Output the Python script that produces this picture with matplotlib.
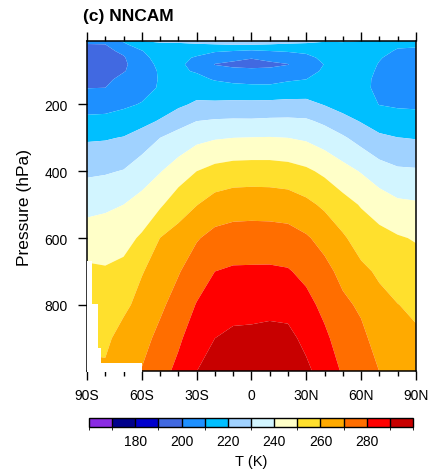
import numpy as np
import matplotlib
matplotlib.use("Agg")
import matplotlib.pyplot as plt
from matplotlib.colors import ListedColormap, BoundaryNorm

plt.rcParams['font.family'] = ['Liberation Sans', 'DejaVu Sans']

# ---- data (zonal mean temperature, K) ----
lats = [-90, -80, -70, -60, -50, -40, -30, -20, -10, 0, 10, 20, 30, 40, 50, 60, 70, 80, 90]
plevs = [10, 20, 40, 60, 80, 100, 125, 150, 200, 250, 300, 400, 500, 600, 700, 800, 900, 1000]

# one row per pressure level, one value per latitude
temp = [
    [204, 204, 211, 220, 221, 222, 223, 224, 225, 225, 225, 224, 223, 221, 220.5, 220, 219, 215, 213],
    [199.6, 200, 208.3, 216, 219, 218.5, 219.4, 220, 220.8, 220.8, 220, 219, 218.3, 217, 219, 218.5, 216.5, 211.7, 211],
    [197.2, 198, 201.7, 209.5, 216.5, 214.5, 213.1, 210.9, 210, 208.7, 210, 210.8, 211.7, 214.5, 216, 216.4, 212.9, 209, 208.9],
    [196.3, 197, 199.2, 207, 214, 212.3, 209.1, 205.3, 202, 200.4, 202, 205, 207.8, 211.9, 214.9, 215.3, 210.6, 207.3, 207.3],
    [196, 196.5, 198.6, 204.6, 212.7, 211.3, 207.7, 199.6, 198.4, 197.7, 198.6, 199.7, 206.1, 210.2, 213.7, 214.1, 209.5, 205.7, 205.5],
    [196.7, 197.3, 199.6, 203, 211.5, 211.2, 209.3, 204.5, 201.9, 201.7, 201.5, 203.7, 207, 211.2, 212.6, 213, 208.9, 205, 204.5],
    [197.8, 198.6, 201.8, 204.8, 210.8, 211.8, 212.1, 209.4, 207.7, 206.9, 206.6, 208.9, 210, 212.3, 212.5, 212.3, 208.2, 206, 205.6],
    [199.8, 200, 204.0, 206.7, 210.9, 213, 215.1, 213.5, 212.7, 212.2, 212.2, 213.4, 214.2, 214.1, 213.2, 211.7, 208.5, 207, 206.6],
    [206.1, 206.4, 208.4, 210.6, 214.5, 218.1, 221.7, 221.9, 222.5, 222.5, 222.7, 223.1, 222.9, 219.5, 215.8, 213.8, 209.8, 209, 208.8],
    [212.4, 212.8, 214.2, 216.9, 220.9, 226.4, 230, 231.1, 231.4, 231.3, 231.8, 231.9, 231.4, 228.2, 223.7, 219.4, 215.3, 213.4, 212.9],
    [218.8, 219.2, 220.5, 224.5, 230, 233.7, 237.4, 239.2, 240, 240.3, 240.5, 240, 238.6, 235.3, 231.3, 226.4, 221.9, 220.2, 219.5],
    [228.4, 229.0, 230.5, 235.4, 239.5, 244.7, 250, 253.1, 254.6, 254.9, 254.8, 253.9, 251.7, 248.1, 243.5, 239.4, 234.4, 231.6, 231.2],
    [236.6, 238.2, 240, 243.3, 248.6, 255.7, 259.7, 264, 265.6, 265.9, 265.7, 265.1, 262.3, 258.3, 253.6, 249.3, 245.5, 242, 241.2],
    [245.4, 245.3, 246.7, 251.4, 260.1, 263.5, 269.2, 273, 274.2, 274.4, 274.3, 273.7, 271.1, 266.8, 261.3, 255.8, 253, 250.9, 249.3],
    [251.7, 251.0, 252.6, 259.4, 264.2, 269.3, 275.1, 280, 281.3, 281.4, 281.5, 280.8, 277.5, 272.9, 267.3, 262.1, 258.6, 255.6, 254],
    [255, 254.4, 257.8, 263.3, 268.2, 273.9, 280.5, 285, 287.1, 287.2, 287.7, 286.8, 282.9, 277.5, 272, 268.5, 262.7, 260.2, 258.3],
    [258, 257.9, 263.8, 266.9, 272.5, 278.4, 285.2, 290, 291.7, 292, 292.5, 292.5, 287.6, 281.9, 275.5, 272.2, 266.4, 262.6, 261.4],
    [262, 261.5, 267, 270.5, 276.5, 282.5, 290, 293, 295, 296, 295.5, 295, 292, 286, 279, 275, 270, 265, 264],
]

# below-ground region near Antarctica (left edge of each step, surface pressure)
mask_lat = [-90, -87.5, -84, -82.5, -60]
mask_ps = [670, 798, 928, 973, 973]

levels = [100, 170, 180, 190, 200, 210, 220, 230, 240, 250, 260, 270, 280, 290, 400]
colors = ['#8a2be2', '#00008b', '#0000cd', '#4169e1', '#1e90ff', '#00bfff', '#a0d2ff',
          '#d2f5ff', '#ffffc8', '#ffe02d', '#ffaa00', '#ff6e00', '#ff0000', '#c80000']
cbar_ticks = [180, 200, 220, 240, 260, 280]

xticks = [-90, -60, -30, 0, 30, 60, 90]
xticklabels = ['90S', '60S', '30S', '0', '30N', '60N', '90N']
yticks = [200, 400, 600, 800]

# ---- plot ----
cmap = ListedColormap(colors)
norm = BoundaryNorm(levels, cmap.N)

fig = plt.figure(figsize=(4.35, 4.77), dpi=100)
ax = fig.add_axes([0.2, 0.22, 0.756, 0.692])

cs = ax.contourf(np.array(lats), np.array(plevs), np.array(temp), levels=levels,
                 cmap=cmap, norm=norm, antialiased=True)
ax.fill_between(mask_lat, mask_ps, 1000, step='post', color='white', lw=0, zorder=3)

ax.set_xlim(-90, 90)
ax.set_ylim(998, 10)
ax.set_xticks(xticks)
ax.set_xticklabels(xticklabels)
ax.set_xticks(np.arange(-90, 91, 10), minor=True)
ax.set_yticks(yticks)

ax.tick_params(axis='x', which='major', direction='out', length=6.5, width=1,
               top=True, labelsize=10, pad=6)
ax.tick_params(axis='x', which='minor', direction='out', length=3.3, width=1, top=True)
ax.tick_params(axis='y', which='major', direction='out', length=6.5, width=1,
               right=False, labelsize=10, pad=7.5)
for s in ax.spines.values():
    s.set_linewidth(1.1)

ax.set_ylabel('Pressure (hPa)', fontsize=12.5)
ax.yaxis.set_label_coords(-0.167, 0.5)

fig.text(83 / 435, 1 - 17 / 477, '(c) NNCAM', fontsize=12.5, fontweight='bold',
         ha='left', va='center')

cax = fig.add_axes([0.2046, 0.1027, 0.745, 0.0189])
cb = fig.colorbar(cs, cax=cax, orientation='horizontal', spacing='uniform',
                  drawedges=True, ticks=cbar_ticks)
cb.outline.set_linewidth(1)
cb.dividers.set_linewidth(1)
cb.dividers.set_color('black')
cax.tick_params(length=0, labelsize=10, pad=5)
cb.set_label('T (K)', fontsize=10.5, labelpad=4)

fig.savefig('out.png', dpi=100)
